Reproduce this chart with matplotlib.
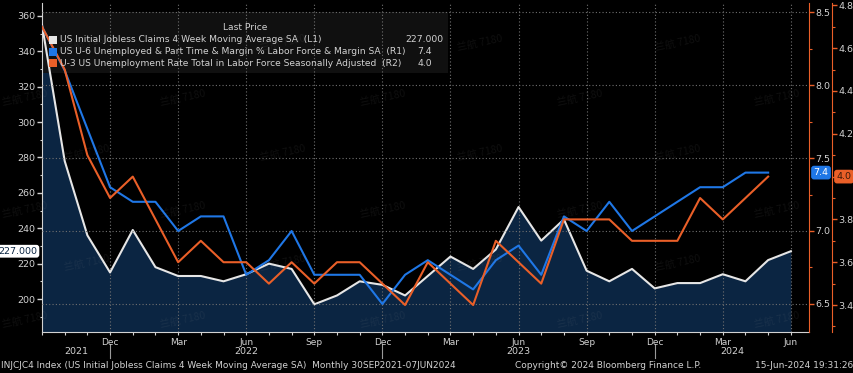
import numpy as np
import pandas as pd
import matplotlib
matplotlib.use("Agg")
import matplotlib.pyplot as plt
import matplotlib.transforms as mtransforms
from matplotlib.patches import Rectangle
from matplotlib.lines import Line2D
from matplotlib.ticker import MultipleLocator, FixedLocator, FormatStrFormatter

# monthly data, Sep 2021 .. Jun 2024
months = pd.date_range("2021-09-01", "2024-06-01", freq="MS")

claims = [355, 278, 236, 215, 239, 218, 213, 213, 210, 214, 220, 217,
          197, 202, 210, 208, 202, 213, 224, 217, 228, 252, 233, 245,
          216, 210, 217, 206, 209, 209, 214, 210, 222, 227]
u6 = [8.4, 8.1, 7.7, 7.3, 7.2, 7.2, 7.0, 7.1, 7.1, 6.7, 6.8, 7.0,
      6.7, 6.7, 6.7, 6.5, 6.7, 6.8, 6.7, 6.6, 6.8, 6.9, 6.7, 7.1,
      7.0, 7.2, 7.0, 7.1, 7.2, 7.3, 7.3, 7.4, 7.4]
u3 = [4.7, 4.5, 4.1, 3.9, 4.0, 3.8, 3.6, 3.7, 3.6, 3.6, 3.5, 3.6,
      3.5, 3.6, 3.6, 3.5, 3.4, 3.6, 3.5, 3.4, 3.7, 3.6, 3.5, 3.8,
      3.8, 3.8, 3.7, 3.7, 3.7, 3.9, 3.8, 3.9, 4.0]

names = ["US Initial Jobless Claims 4 Week Moving Average SA  (L1)",
         "US U-6 Unemployed & Part Time & Margin % Labor Force & Margin SA  (R1)",
         "U-3 US Unemployment Rate Total in Labor Force Seasonally Adjusted  (R2)"]
last_labels = ["227.000", "7.4", "4.0"]

footer_left = "INJCJC4 Index (US Initial Jobless Claims 4 Week Moving Average SA)  Monthly 30SEP2021-07JUN2024"
footer_mid = "Copyright\u00a9 2024 Bloomberg Finance L.P."
footer_right = "15-Jun-2024 19:31:26"
watermark = "兰航 7180"

WHITE = "#e6e6e6"
BLUE = "#1f77e6"
ORANGE = "#ea5f28"
NAVY = "#0b2542"
TXT = "#d2d2d2"
GRID = "#707070"

W, H = 854, 373
def fx(px):
    return px / W
def fy(py):
    return 1 - py / H

fig = plt.figure(figsize=(W / 100, H / 100), dpi=100, facecolor="black")
ax1 = fig.add_axes([fx(42), fy(332), (809 - 42) / W, (332 - 3) / H])
ax1.set_facecolor("black")
ax2 = ax1.twinx()
ax3 = ax1.twinx()

x = np.arange(len(months))

# L1 claims with fill
ax1.fill_between(x, claims, 150, color=NAVY, lw=0, zorder=1)
ax1.plot(x, claims, color=WHITE, lw=1.5, zorder=3)
ax1.set_ylim(181.35, 367.3)
ax1.set_xlim(0, 33.8)

# R1 and R2
ax2.plot(x[:len(u6)], u6, color=BLUE, lw=1.5)
ax2.set_ylim(6.308, 8.562)
ax3.plot(x[:len(u3)], u3, color=ORANGE, lw=1.5)
ax3.set_ylim(3.274, 4.811)

# x ticks: quarters labelled, every month minor
quarters = [i for i, m in enumerate(months) if m.month in (3, 6, 9, 12) and i > 0]
ax1.xaxis.set_major_locator(FixedLocator(quarters))
ax1.set_xticklabels([months[i].strftime("%b") for i in quarters])
ax1.xaxis.set_minor_locator(MultipleLocator(1))
ax1.tick_params(axis="x", which="both", colors=TXT, labelsize=6.5, length=2.5, width=0.8, pad=2)

ax1.yaxis.set_major_locator(MultipleLocator(20))
ax1.yaxis.set_minor_locator(MultipleLocator(10))
ax1.tick_params(axis="y", which="major", colors=TXT, labelsize=6.8, length=3.5, width=1, pad=1)
ax1.tick_params(axis="y", which="minor", colors=TXT, length=1.8, width=0.8)

ax2.yaxis.set_major_locator(MultipleLocator(0.5))
ax2.yaxis.set_minor_locator(MultipleLocator(0.25))
ax2.yaxis.set_major_formatter(FormatStrFormatter("%.1f"))
ax2.tick_params(axis="y", which="major", colors=ORANGE, labelcolor=TXT, labelsize=6.8, length=3.5, width=1, pad=1)
ax2.tick_params(axis="y", which="minor", colors=ORANGE, length=1.8, width=0.8)

# second right axis sits 23 px outside the first one
ax3.spines["right"].set_position(("outward", 23 * 72 / 100))
ax3.yaxis.set_major_locator(MultipleLocator(0.2))
ax3.yaxis.set_minor_locator(MultipleLocator(0.1))
ax3.yaxis.set_major_formatter(FormatStrFormatter("%.1f"))
ax3.tick_params(axis="y", which="major", colors=ORANGE, labelcolor=TXT, labelsize=6.8, length=3.5, width=1, pad=1)
ax3.tick_params(axis="y", which="minor", colors=ORANGE, length=1.8, width=0.8)

for a in (ax1, ax2, ax3):
    for s in a.spines.values():
        s.set_visible(False)
ax1.spines["left"].set_visible(True)
ax1.spines["bottom"].set_visible(True)
ax1.spines["left"].set_color(TXT)
ax1.spines["bottom"].set_color(TXT)
ax2.spines["right"].set_visible(True)
ax2.spines["right"].set_color(ORANGE)
ax3.spines["right"].set_visible(True)
ax3.spines["right"].set_color(ORANGE)

# grids
ax1.set_axisbelow(False)
ax1.grid(axis="x", which="major", color=GRID, ls=(0, (1, 2)), lw=0.8)
ax2.grid(axis="y", which="major", color=GRID, ls=(0, (1, 2)), lw=0.8)

# year labels and separators under the axis
tb = mtransforms.blended_transform_factory(ax1.transData, fig.transFigure)
decs = [i for i, m in enumerate(months) if m.month == 12]
edges = [ax1.get_xlim()[0]] + decs + [ax1.get_xlim()[1]]
years = ["2021", "2022", "2023", "2024"]
for k, yr in enumerate(years):
    ax1.text((edges[k] + edges[k + 1]) / 2, fy(352), yr, transform=tb,
             ha="center", va="center", color=TXT, fontsize=6.8)
for d in decs:
    ax1.add_line(Line2D([d, d], [fy(344), fy(358)], transform=tb, color="#9a9a9a",
                        lw=0.8, clip_on=False))

# last value tags
t1 = mtransforms.blended_transform_factory(ax1.transAxes, ax1.transData)
ax1.text(-0.006, claims[-1], last_labels[0], transform=t1, ha="right", va="center",
         fontsize=6.8, color="#0b2542", clip_on=False,
         bbox=dict(boxstyle="round,pad=0.2,rounding_size=0.3", fc="white", ec="none"))
t2 = mtransforms.blended_transform_factory(ax2.transAxes, ax2.transData)
ax2.text((821 - 42) / 767, u6[-1], last_labels[1], transform=t2, ha="center", va="center",
         fontsize=6.8, color="white", clip_on=False,
         bbox=dict(boxstyle="round,pad=0.25,rounding_size=0.3", fc=BLUE, ec="none"))
t3 = mtransforms.blended_transform_factory(ax3.transAxes, ax3.transData)
ax3.text((844 - 42) / 767, u3[-1], last_labels[2], transform=t3, ha="center", va="center",
         fontsize=6.8, color="#3a1a0a", clip_on=False,
         bbox=dict(boxstyle="round,pad=0.25,rounding_size=0.3", fc=ORANGE, ec="none"))

# legend box (semi transparent, over fill, under lines)
ax1.add_patch(Rectangle((fx(42), fy(73)), (448 - 42) / W, (73 - 12) / H,
                        transform=fig.transFigure, fc="#121212", ec="none",
                        alpha=0.92, zorder=2, clip_on=False))
fig.text(fx(245), fy(28), "Last Price", ha="center", va="center", color=TXT, fontsize=6.6)
row_y = [40, 52, 63]
for name, val, col, ry, vx in zip(names, last_labels, [WHITE, BLUE, ORANGE], row_y, [443, 432, 432]):
    fig.add_artist(Rectangle((fx(49), fy(ry + 4)), 8 / W, 8 / H, transform=fig.transFigure,
                             fc=col, ec="none"))
    fig.text(fx(60), fy(ry), name, ha="left", va="center", color=TXT, fontsize=6.6)
    fig.text(fx(vx), fy(ry), val, ha="right", va="center", color=TXT, fontsize=6.7)

# footer
fig.text(fx(1), fy(365), footer_left, ha="left", va="center", color=TXT, fontsize=6.5)
fig.text(fx(515), fy(365), footer_mid, ha="left", va="center", color=TXT, fontsize=6.5)
fig.text(fx(853), fy(365), footer_right, ha="right", va="center", color=TXT, fontsize=6.5)

# watermark
wm_rows = [(43, [87, 283, 480, 678]), (98, [25, 183, 383, 580, 777]),
           (153, [87, 283, 480, 678]), (210, [25, 183, 383, 580, 777]),
           (263, [87, 283, 480, 678]), (320, [25, 183, 383, 580, 777])]
for wy, xs in wm_rows:
    for wx in xs:
        fig.text(fx(wx), fy(wy), watermark, ha="center", va="center", rotation=12,
                 color="#9a9a9a", alpha=0.1, fontsize=7.5,
                 family=["Noto Sans CJK SC", "DejaVu Sans"])

fig.savefig("out.png", dpi=100, facecolor="black")
